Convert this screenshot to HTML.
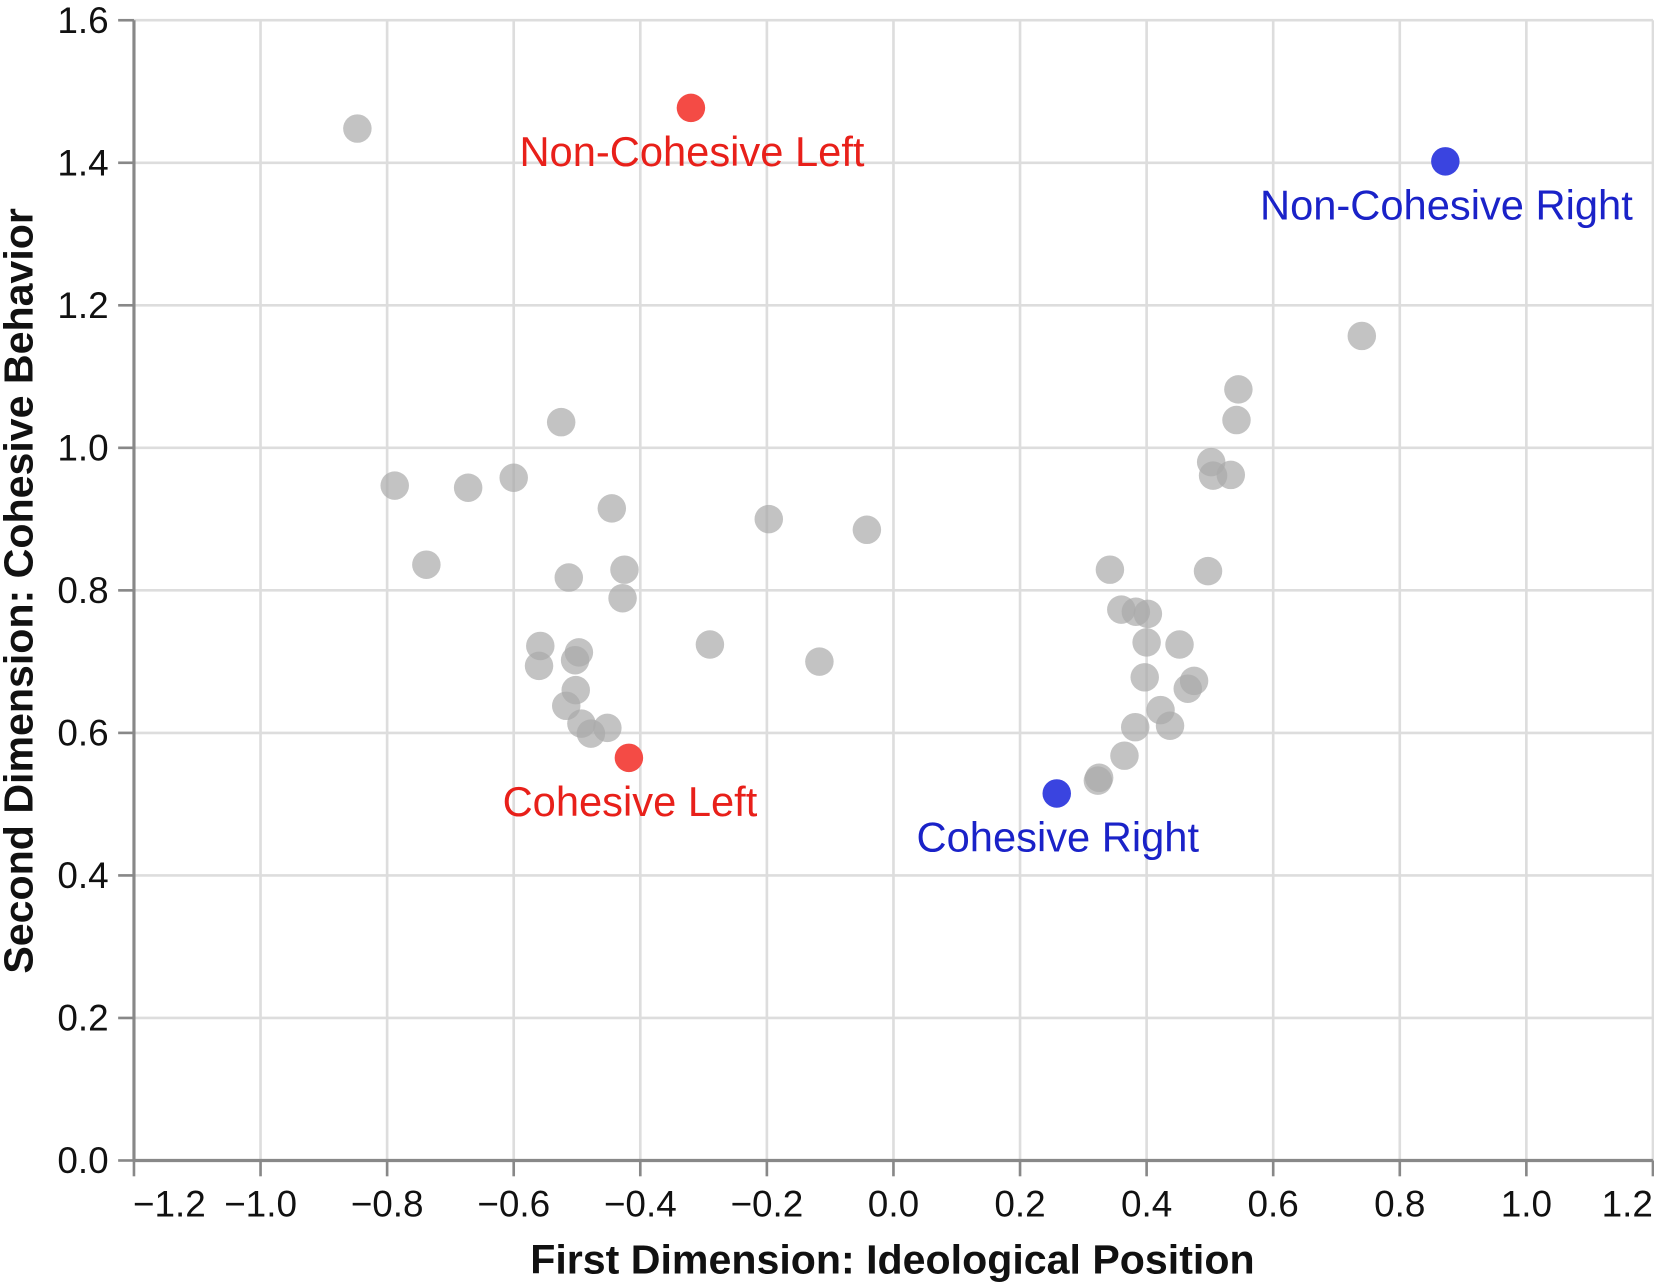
<!DOCTYPE html>
<html><head><meta charset="utf-8"><style>
html,body{margin:0;padding:0;background:#fff}
svg{display:block;font-family:"Liberation Sans",Arial,sans-serif}
</style></head><body>
<svg width="1654" height="1283" viewBox="0 0 1568 1216" xmlns="http://www.w3.org/2000/svg">
<g id="grid"></g>
<g id="axes"></g>
<g id="marks"></g>
<g id="labels"></g>
<text x="846" y="1207" text-anchor="middle" font-size="39" font-weight="bold" fill="#111">First Dimension: Ideological Position</text>
<text transform="translate(31,560) rotate(-90)" text-anchor="middle" font-size="39" font-weight="bold" fill="#111">Second Dimension: Cohesive Behavior</text>
</svg>
<script>
const xTicks=[-1.2,-1.0,-0.8,-0.6,-0.4,-0.2,0.0,0.2,0.4,0.6,0.8,1.0,1.2];
const yTicks=[0.0,0.2,0.4,0.6,0.8,1.0,1.2,1.4,1.6];
const grayX=[-0.847,-0.788,-0.672,-0.600,-0.738,-0.525,-0.445,-0.513,-0.425,-0.428,-0.558,-0.560,-0.497,-0.503,-0.502,-0.517,-0.493,-0.478,-0.452,-0.290,-0.197,-0.117,-0.042,0.740,0.545,0.542,0.502,0.505,0.533,0.497,0.342,0.360,0.383,0.402,0.400,0.452,0.397,0.475,0.465,0.422,0.437,0.382,0.365,0.325,0.323];
const grayY=[1.448,0.947,0.944,0.958,0.836,1.036,0.915,0.818,0.829,0.789,0.722,0.694,0.713,0.702,0.660,0.638,0.613,0.599,0.607,0.724,0.900,0.700,0.885,1.157,1.082,1.039,0.980,0.961,0.962,0.827,0.829,0.773,0.770,0.767,0.727,0.724,0.678,0.673,0.662,0.632,0.610,0.608,0.568,0.537,0.533];
const keyNames=["Non-Cohesive Left","Cohesive Left","Non-Cohesive Right","Cohesive Right"];
const keyX=[-0.320,-0.418,0.872,0.258];
const keyY=[1.477,0.565,1.402,0.515];
const keyGroup=["left","left","right","right"];
const NS="http://www.w3.org/2000/svg";
const X=v=>847+v*600, Y=v=>1100-v*675.6;
function mk(tag,attrs,parent){const e=document.createElementNS(NS,tag);for(const k in attrs)e.setAttribute(k,attrs[k]);parent.appendChild(e);return e;}
const grid=document.getElementById('grid'),axes=document.getElementById('axes'),marks=document.getElementById('marks'),labels=document.getElementById('labels');
xTicks.forEach((t,i)=>{
 const l=mk('line',{x1:X(t),x2:X(t),y1:Y(1.6),y2:Y(0),stroke:'#ddd','stroke-width':2.5},grid);
 
 
 const tk=mk('line',{x1:X(t),x2:X(t),y1:1100,y2:1115,stroke:'#888','stroke-width':2.5},axes);
 
 
 let anchor='middle',tx0=X(t);
 if(i===0){anchor='start';tx0=X(t)-1;}
 if(i===xTicks.length-1){anchor='end';tx0=1567;}
 const tx=mk('text',{x:tx0,y:1153,'text-anchor':anchor,'font-size':35,fill:'#111'},axes);
 tx.textContent=(t<0?'\u2212':'')+Math.abs(t).toFixed(1);
 
 
});
yTicks.forEach(t=>{
 const l=mk('line',{x1:X(-1.2),x2:X(1.2),y1:Y(t),y2:Y(t),stroke:'#ddd','stroke-width':2.5},grid);
 
 
 const tk=mk('line',{x1:112,x2:127,y1:Y(t),y2:Y(t),stroke:'#888','stroke-width':2.5},axes);
 
 
 const tx=mk('text',{x:103,y:Y(t)+12,'text-anchor':'end','font-size':35,fill:'#111'},axes);
 tx.textContent=t.toFixed(1);
 
 
});
const ax=mk('line',{x1:X(-1.2),x2:X(1.2),y1:1100,y2:1100,stroke:'#888','stroke-width':3},axes);


const ay=mk('line',{x1:127,x2:127,y1:Y(1.6),y2:1100,stroke:'#888','stroke-width':3},axes);


grayX.forEach((v,i)=>{
 const c=mk('circle',{cx:X(v),cy:Y(grayY[i]),r:13.5,fill:'#aaa','fill-opacity':0.7},marks);
 
 
});
keyNames.forEach((n,i)=>{
 const col=keyGroup[i]==='left'?'#f44b45':'#3a44e0';
 const tcol=keyGroup[i]==='left'?'#e8201a':'#1a22c8';
 const c=mk('circle',{cx:X(keyX[i]),cy:Y(keyY[i]),r:13.5,fill:col},marks);
 
 
 const t=mk('text',{x:X(keyX[i])+1,y:Y(keyY[i])+55,'text-anchor':'middle','font-size':39.5,fill:tcol},labels);
 t.textContent=n;
 
 
});
</script>
</body></html>
